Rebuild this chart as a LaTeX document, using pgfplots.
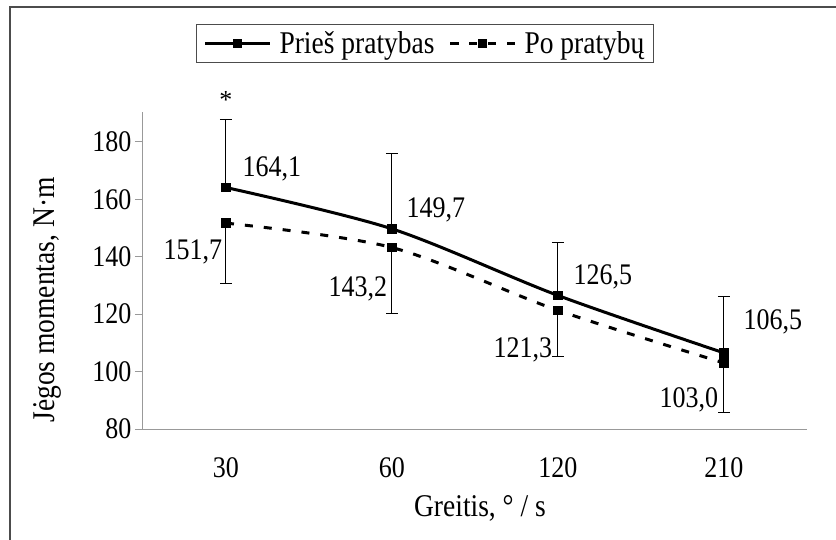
\documentclass[border=0pt]{standalone}
\usepackage{pgfplots}
\pgfplotsset{compat=1.18}
\usepackage{fontspec}
\setmainfont{Liberation Serif}
\newcommand{\tall}[1]{\scalebox{1}[1.15]{#1}}
\begin{document}
\begin{tikzpicture}[x=1pt,y=1pt]
  \useasboundingbox (-143,-110) rectangle (693,429);
  % outer frame (left and top edges only)
  \draw[line width=1.7pt, black!70] (-133,-120) -- (-133,422) -- (700,422);
  \begin{axis}[
    at={(0,0)}, anchor=south west,
    scale only axis, width=664pt, height=317pt,
    xmin=-0.5, xmax=3.5, ymin=80, ymax=190.4,
    xtick={0,1,2,3}, xticklabels={\tall{30},\tall{60},\tall{120},\tall{210}},
    ytick={80,100,...,180},
    yticklabel={\tall{\pgfmathprintnumber{\tick}}},
    axis x line*=bottom, axis y line*=left,
    axis line style={black!40, line width=1pt, -},
    x tick style={draw=none},
    y tick style={black!40, line width=1pt},
    tick align=outside, major tick length=8pt,
    ticklabel style={font=\fontsize{26}{28}\selectfont},
    xticklabel style={yshift=-17pt},
    /pgf/number format/assume math mode=true,
    xlabel={\tall{Greitis, \textdegree\ / s}},
    ylabel={\tall{Jėgos momentas, N·m}},
    label style={font=\fontsize{27.5}{30}\selectfont},
    xlabel style={at={(axis description cs:0.5075,-0.249)}, anchor=center},
    ylabel style={at={(axis description cs:-0.1446,0.407)}, anchor=center},
    clip=false,
    legend style={at={(0.4247,1.216)}, anchor=center, draw=black!70, line width=1.2pt,
      font=\fontsize{27.5}{30}\selectfont, legend columns=2,
      inner xsep=7pt, inner ysep=5pt,
      /tikz/every odd column/.append style={column sep=6pt},
      /tikz/every even column/.append style={column sep=12pt}},
    legend image code/.code={\draw[mark repeat=2,mark phase=2,#1]
      plot coordinates {(0pt,0pt) (32.5pt,0pt) (65pt,0pt)};},
  ]
    \addplot[black, line width=3pt, smooth, mark=square*, mark size=3.3pt, mark options={solid},
      error bars/.cd, y dir=plus, y explicit,
      error bar style={line width=1pt, solid},
      error mark options={rotate=90, mark size=6pt, line width=1pt}]
      coordinates {(0,164.1) +- (0,23.6) (1,149.7) +- (0,26.1) (2,126.5) +- (0,18.3) (3,106.5) +- (0,19.5)};
    \addplot[black, line width=3pt, smooth, dash pattern=on 8pt off 11pt, mark=square*, mark size=3.3pt, mark options={solid},
      error bars/.cd, y dir=minus, y explicit,
      error bar style={line width=1pt, solid},
      error mark options={rotate=90, mark size=6pt, line width=1pt}]
      coordinates {(0,151.7) +- (0,21.2) (1,143.2) +- (0,23.1) (2,121.3) +- (0,16.2) (3,103.0) +- (0,17.4)};
    \legend{\tall{Prieš pratybas}, \tall{Po pratybų}}
    % value labels
    \begin{scope}[every node/.style={font=\fontsize{26}{28}\selectfont}]
      \node[xshift=46pt, yshift=19pt] at (axis cs:0,164.1) {\tall{164,1}};
      \node[xshift=44pt, yshift=19pt] at (axis cs:1,149.7) {\tall{149,7}};
      \node[xshift=45pt, yshift=19pt] at (axis cs:2,126.5) {\tall{126,5}};
      \node[xshift=49pt, yshift=31pt] at (axis cs:3,106.5) {\tall{106,5}};
      \node[xshift=-33pt, yshift=-29pt] at (axis cs:0,151.7) {\tall{151,7}};
      \node[xshift=-34pt, yshift=-41pt] at (axis cs:1,143.2) {\tall{143,2}};
      \node[xshift=-35pt, yshift=-39pt] at (axis cs:2,121.3) {\tall{121,3}};
      \node[xshift=-35pt, yshift=-37pt] at (axis cs:3,103.0) {\tall{103,0}};
      \node at (axis cs:0,194.5) {*};
    \end{scope}
  \end{axis}
\end{tikzpicture}
\end{document}
